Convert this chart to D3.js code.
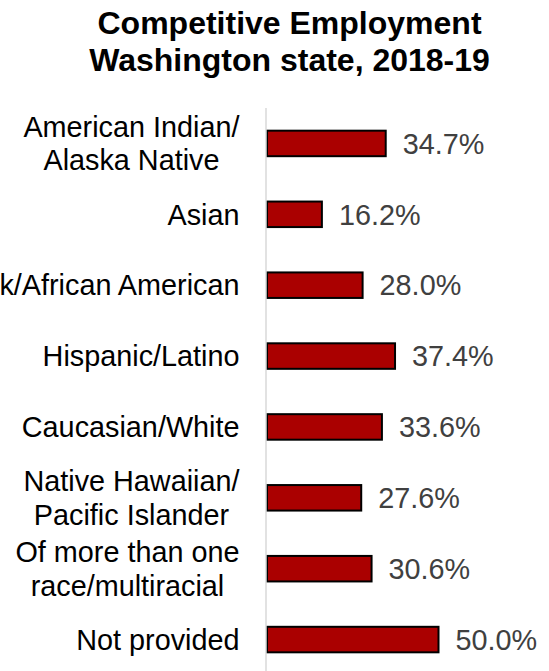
<!DOCTYPE html>
<html>
<head>
<meta charset="utf-8">
<script src="https://cdn.jsdelivr.net/npm/d3@7"></script>
<style>
  html, body { margin: 0; padding: 0; background: #fff; }
  svg { display: block; }
</style>
</head>
<body>
<div id="chart"></div>
<script>
// Chart data
const titleLines = ["Competitive Employment", "Washington state, 2018-19"];
const categories = [
  ["American Indian/", "Alaska Native"],
  ["Asian"],
  ["Black/African American"],
  ["Hispanic/Latino"],
  ["Caucasian/White"],
  ["Native Hawaiian/", "Pacific Islander"],
  ["Of more than one", "race/multiracial"],
  ["Not provided"]
];
const values = [34.7, 16.2, 28.0, 37.4, 33.6, 27.6, 30.6, 50.0];

const W = 549, H = 671;
const font = "'Liberation Sans', Arial, Helvetica, sans-serif";
const labelSize = 28.8;
const lineGap = 33.3;
const labelRight = 239.5;

const svg = d3.select("#chart").append("svg")
  .attr("width", W).attr("height", H);

// Title
svg.append("text")
  .attr("x", 289.5).attr("y", 34)
  .attr("text-anchor", "middle")
  .style("font-family", font).style("font-size", "32px").style("font-weight", "bold")
  .attr("fill", "#000")
  .selectAll("tspan").data(titleLines).join("tspan")
  .attr("x", 289.5)
  .attr("dy", (d, i) => i === 0 ? 0 : 37.3)
  .text(d => d);

const idx = d3.range(categories.length);

const x = d3.scaleLinear().domain([0, 50]).range([266, 438.5]);
const y = d3.scaleBand().domain(idx).range([108, 675])
  .paddingInner(0.64).paddingOuter(0.32);

// Bars
svg.append("g").selectAll("rect").data(idx).join("rect")
  .attr("x", x(0) + 1)
  .attr("y", i => y(i))
  .attr("width", i => x(values[i]) - x(0) - 1)
  .attr("height", y.bandwidth())
  .attr("fill", "#aa0000")
  .attr("stroke", "#000")
  .attr("stroke-width", 2);

// Vertical category axis line
svg.append("line")
  .attr("x1", x(0)).attr("x2", x(0))
  .attr("y1", 108).attr("y2", H)
  .attr("stroke", "#d9d9d9").attr("stroke-width", 1.5);

// Category labels: each block is right-aligned, its lines centred within it
const capHalf = labelSize * 0.716 / 2;
const labels = svg.append("g").selectAll("g").data(idx).join("g");
labels.each(function(i) {
  const g = d3.select(this);
  const lines = categories[i];
  const cy = y(i) + y.bandwidth() / 2;
  const first = cy + capHalf - (lines.length - 1) * lineGap / 2;
  const texts = g.selectAll("text").data(lines).join("text")
    .style("font-family", font).style("font-size", labelSize + "px")
    .attr("fill", "#000")
    .attr("y", (d, k) => first + k * lineGap)
    .text(d => d);
  if (lines.length === 1) {
    texts.attr("text-anchor", "end").attr("x", labelRight);
  } else {
    let maxW = 0;
    texts.each(function() { maxW = Math.max(maxW, this.getComputedTextLength()); });
    texts.attr("text-anchor", "middle").attr("x", labelRight - maxW / 2);
  }
});

// Value labels
svg.append("g").selectAll("text").data(idx).join("text")
  .attr("x", i => x(values[i]) + 17)
  .attr("y", i => y(i) + y.bandwidth() / 2 + capHalf)
  .style("font-family", font).style("font-size", labelSize + "px")
  .attr("fill", "#404040")
  .text(i => values[i].toFixed(1) + "%");
</script>
</body>
</html>
